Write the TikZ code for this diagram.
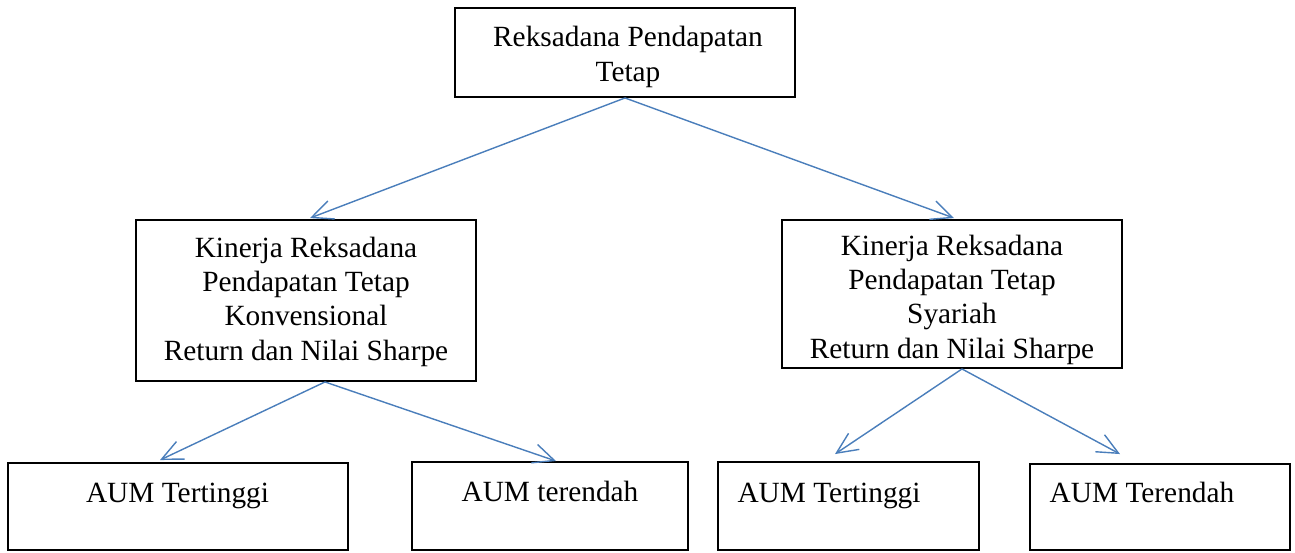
\documentclass[tikz,border=0pt]{standalone}
\usepackage{fontspec}
\setmainfont{Liberation Serif}
\usetikzlibrary{arrows.meta,positioning,calc}
\definecolor{arrowblue}{RGB}{74,126,187}
\tikzset{
    box/.style={draw,line width=1.1pt,inner sep=0pt},
    lbl/.style={font=\fontsize{16.7}{19.5}\selectfont,align=center,inner sep=0pt,anchor=base},
    arr/.style={draw=arrowblue,line width=0.8pt,-{Straight Barb[length=12pt,width=11pt]}},
}

\begin{document}
\begin{tikzpicture}[x=0.02cm,y=-0.02cm]
\useasboundingbox (0,0) rectangle (1295,552);

% top box
\node[box,minimum width=6.8cm,minimum height=1.78cm] (root) at (625,52.5) {};
\node[lbl] (roottxt) at (628,81) {Reksadana Pendapatan\\Tetap};

% middle boxes
\node[box,minimum width=6.8cm,minimum height=3.22cm] (konv) at (306,300.5) {};
\node[lbl] (konvtxt) at (306,360) {Kinerja Reksadana\\Pendapatan Tetap\\Konvensional\\Return dan Nilai Sharpe};

\begin{scope}
  \clip (782,220) rectangle (1122,367);
  \node[lbl] (syartxt) at (952,358) {Kinerja Reksadana\\Pendapatan Tetap\\Syariah\\Return dan Nilai Sharpe};
\end{scope}
\node[box,minimum width=6.8cm,minimum height=2.96cm] (syar) at (952,294) {};

% bottom boxes
\node[box,minimum width=6.8cm,minimum height=1.74cm] (kt) at (178,506.5) {};
\node[lbl] at (177.5,502) {AUM Tertinggi};
\node[box,minimum width=5.52cm,minimum height=1.76cm] (kr) at (550,506) {};
\node[lbl] at (550,501) {AUM terendah};
\node[box,minimum width=5.22cm,minimum height=1.76cm] (st) at (848.5,506) {};
\node[lbl] at (829,502) {AUM Tertinggi};
\node[box,minimum width=5.2cm,minimum height=1.72cm] (sr) at (1160,507) {};
\node[lbl] at (1142,502) {AUM Terendah};

% arrows
\draw[arr] (root.south) -- ($(konv.north)+(4,-1)$);
\draw[arr] (root.south) -- ($(syar.north)+(2,-1)$);
\coordinate (konvout) at ($(konv.south)+(19,0)$);
\draw[arr] (konvout) -- ($(kt.north)+(-18,-2)$);
\draw[arr] (konvout) -- ($(kr.north)+(6,0)$);
\coordinate (syarout) at ($(syar.south)+(10,0)$);
\draw[arr] (syarout) -- ($(st.north)+(-13.5,-7)$);
\draw[arr] (syarout) -- ($(sr.north)+(-40,-9)$);
\end{tikzpicture}
\end{document}
